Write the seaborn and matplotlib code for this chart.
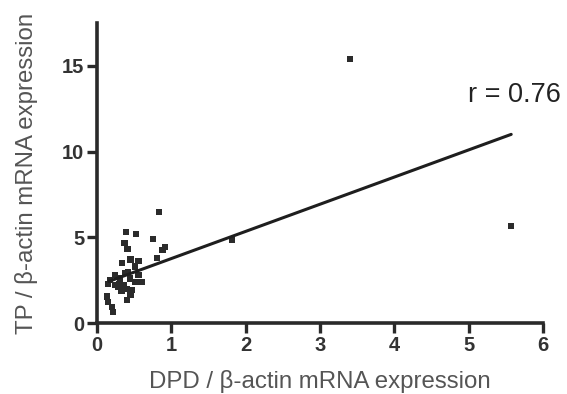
import numpy as np
import pandas as pd
import seaborn as sns
import matplotlib.pyplot as plt

# values
dpd = [0.39, 0.52, 0.75, 0.37, 0.41, 0.92, 0.88, 0.81, 0.34, 0.45,
       0.56, 0.51, 0.42, 0.24, 0.18, 0.31, 0.15, 0.56, 0.60, 0.51,
       0.36, 0.28, 0.40, 0.33, 0.45, 0.40, 0.13, 0.15, 0.20, 0.22,
       0.47, 0.30, 0.44, 0.25, 0.38,
       1.82, 3.40, 5.57, 0.83]
tp = [5.30, 5.20, 4.90, 4.65, 4.30, 4.45, 4.25, 3.80, 3.50, 3.70,
      3.60, 3.30, 3.00, 2.80, 2.50, 2.60, 2.30, 2.80, 2.40, 2.40,
      2.20, 2.10, 2.00, 1.85, 1.65, 1.35, 1.55, 1.25, 0.95, 0.65,
      1.95, 2.30, 2.60, 2.20, 2.90,
      4.87, 15.40, 5.65, 6.47]
fit_x = [0.16, 5.57]
fit_y = [2.43, 11.0]
r_label = 'r = 0.76'

df = pd.DataFrame({'DPD': dpd, 'TP': tp})
fit = pd.DataFrame({'x': fit_x, 'y': fit_y})

sns.set_style('ticks')
plt.rcParams['font.family'] = ['Liberation Sans', 'DejaVu Sans']

fig = plt.figure(figsize=(5.67, 3.94), dpi=100)
ax = fig.add_axes([0.171, 0.180, 0.787, 0.762])

sns.scatterplot(data=df, x='DPD', y='TP', marker='s', s=20, color='#2b2b2b',
                edgecolor='none', ax=ax)
sns.lineplot(data=fit, x='x', y='y', color='#1e1e1e', linewidth=2.2, ax=ax)

ax.set_xlim(0, 6)
ax.set_ylim(0, 17.5)
ax.set_xticks(range(0, 7))
ax.set_yticks([0, 5, 10, 15])
sns.despine(ax=ax)
for s in ['left', 'bottom']:
    ax.spines[s].set_linewidth(2.6)
    ax.spines[s].set_color('#2a2a2a')
ax.tick_params(width=2.4, length=7, color='#2a2a2a', labelsize=14.5,
               labelcolor='#333333', pad=2)
for lab in ax.get_xticklabels() + ax.get_yticklabels():
    lab.set_fontweight('bold')

ax.set_xlabel('DPD / β-actin mRNA expression', fontsize=17.3, color='#555555', labelpad=11)
ax.set_ylabel('TP / β-actin mRNA expression', fontsize=17.3, color='#555555', labelpad=17)
ax.text(5.62, 13.3, r_label, fontsize=19.5, color='#222222', ha='center', va='center',
        clip_on=False)

fig.savefig('out.png', dpi=100)
